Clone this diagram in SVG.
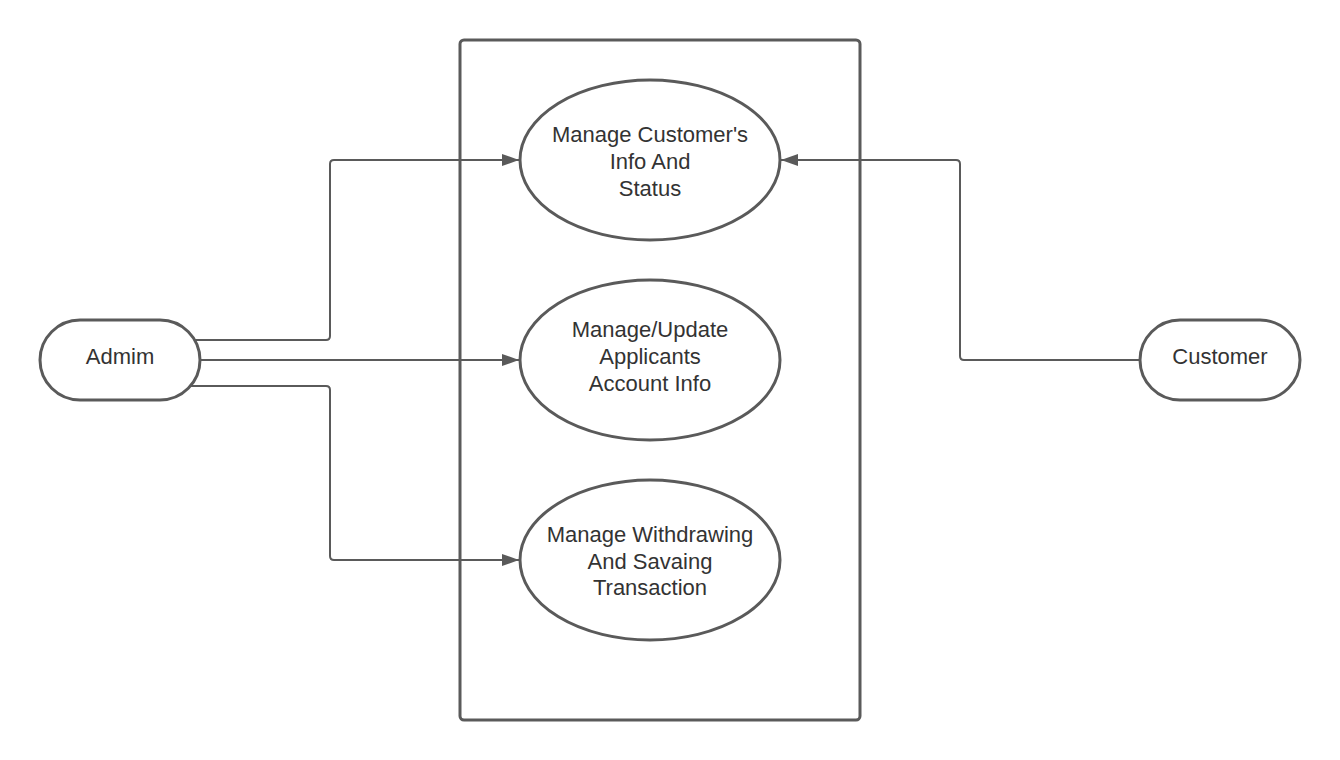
<svg xmlns="http://www.w3.org/2000/svg" width="1340" height="760" viewBox="0 0 1340 760">
<style>
.shape{fill:#fff;stroke:#5a5a5a;stroke-width:3}
.conn{fill:none;stroke:#5a5a5a;stroke-width:2;stroke-linejoin:round}
.t{font-family:"Liberation Sans",Arial,sans-serif;font-size:22px;fill:#333;text-anchor:middle}
</style>
<defs>
<marker id="arr" markerWidth="18" markerHeight="14" refX="17" refY="7" orient="auto" markerUnits="userSpaceOnUse">
<path d="M0,1 L17,7 L0,13 Z" fill="#5a5a5a"/>
</marker>
</defs>
<rect width="1340" height="760" fill="#fff"/>
<g id="system">
<rect class="shape" x="460" y="40" width="400" height="680" rx="4"/>
</g>
<g id="connectors">
<path class="conn" d="M190,340 H326 Q330,340 330,336 V164 Q330,160 334,160 H519" marker-end="url(#arr)"/>
<path class="conn" d="M198,360 H519" marker-end="url(#arr)"/>
<path class="conn" d="M190,386 H326 Q330,386 330,390 V556 Q330,560 334,560 H519" marker-end="url(#arr)"/>
<path class="conn" d="M1142,360 H964 Q960,360 960,356 V164 Q960,160 956,160 H781" marker-end="url(#arr)"/>
</g>
<g id="uc1">
<ellipse class="shape" cx="650" cy="160" rx="130" ry="80"/>
<text class="t" x="650" y="142">Manage Customer's</text>
<text class="t" x="650" y="169">Info And</text>
<text class="t" x="650" y="196">Status</text>
</g>
<g id="uc2">
<ellipse class="shape" cx="650" cy="360" rx="130" ry="80"/>
<text class="t" x="650" y="337">Manage/Update</text>
<text class="t" x="650" y="364">Applicants</text>
<text class="t" x="650" y="391">Account Info</text>
</g>
<g id="uc3">
<ellipse class="shape" cx="650" cy="560" rx="130" ry="80"/>
<text class="t" x="650" y="542">Manage Withdrawing</text>
<text class="t" x="650" y="569">And Savaing</text>
<text class="t" x="650" y="595">Transaction</text>
</g>
<g id="admim">
<rect class="shape" x="40" y="320" width="160" height="80" rx="40"/>
<text class="t" x="120" y="364">Admim</text>
</g>
<g id="customer">
<rect class="shape" x="1140" y="320" width="160" height="80" rx="40"/>
<text class="t" x="1220" y="364">Customer</text>
</g>
</svg>
